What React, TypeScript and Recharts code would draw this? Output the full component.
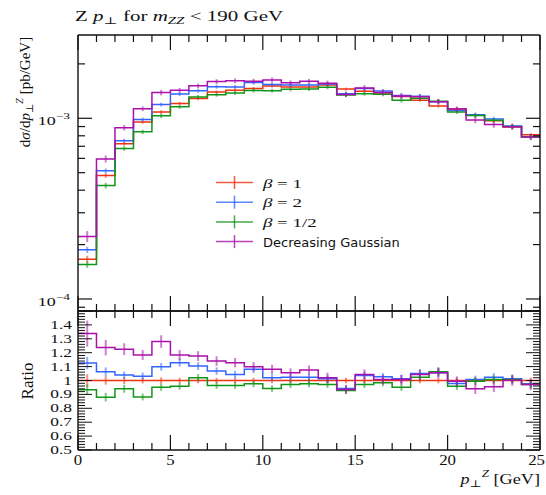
import React from 'react';
import { ComposedChart, Line, XAxis, YAxis, ErrorBar, Legend } from 'recharts';

// bin edges of p_T^Z [GeV]
const binEdges = [0, 1, 2, 3, 4, 5, 6, 7, 8, 9, 10, 11, 12, 13, 14, 15, 16, 17, 18, 19, 20, 21, 22, 23, 24, 25];

// dsigma/dpT [pb/GeV], one value per bin
const beta1 = [1.66e-4, 4.82e-4, 7.24e-4, 9.54e-4, 1.084e-3, 1.207e-3, 1.286e-3, 1.4e-3, 1.43e-3, 1.46e-3, 1.51e-3, 1.49e-3, 1.49e-3, 1.53e-3, 1.45e-3, 1.41e-3, 1.38e-3, 1.32e-3, 1.26e-3, 1.17e-3, 1.13e-3, 1.04e-3, 9.68e-4, 8.95e-4, 8.1e-4];
const beta2 = [1.87e-4, 5.12e-4, 7.52e-4, 9.84e-4, 1.191e-3, 1.362e-3, 1.42e-3, 1.495e-3, 1.492e-3, 1.577e-3, 1.54e-3, 1.526e-3, 1.526e-3, 1.548e-3, 1.366e-3, 1.461e-3, 1.417e-3, 1.336e-3, 1.324e-3, 1.236e-3, 1.105e-3, 1.047e-3, 9.91e-4, 9.06e-4, 7.91e-4];
const betaHalf = [1.55e-4, 4.24e-4, 6.81e-4, 8.41e-4, 1.032e-3, 1.158e-3, 1.312e-3, 1.35e-3, 1.379e-3, 1.425e-3, 1.422e-3, 1.447e-3, 1.454e-3, 1.486e-3, 1.346e-3, 1.369e-3, 1.357e-3, 1.257e-3, 1.29e-3, 1.244e-3, 1.084e-3, 1.035e-3, 9.75e-4, 9.01e-4, 7.87e-4];
const decGauss = [2.22e-4, 5.96e-4, 8.87e-4, 1.129e-3, 1.388e-3, 1.428e-3, 1.512e-3, 1.596e-3, 1.613e-3, 1.605e-3, 1.631e-3, 1.573e-3, 1.602e-3, 1.561e-3, 1.356e-3, 1.471e-3, 1.39e-3, 1.329e-3, 1.314e-3, 1.236e-3, 1.124e-3, 9.78e-4, 9.24e-4, 8.97e-4, 7.87e-4];

// relative statistical errors per bin
const beta1Err = [0.045, 0.03, 0.025, 0.022, 0.022, 0.02, 0.02, 0.02, 0.02, 0.02, 0.02, 0.02, 0.02, 0.02, 0.02, 0.02, 0.02, 0.02, 0.02, 0.02, 0.02, 0.02, 0.022, 0.022, 0.022];
const beta2Err = [0.04, 0.03, 0.025, 0.025, 0.025, 0.025, 0.025, 0.025, 0.025, 0.025, 0.025, 0.025, 0.025, 0.025, 0.025, 0.025, 0.025, 0.028, 0.028, 0.028, 0.028, 0.028, 0.028, 0.028, 0.03];
const betaHalfErr = [0.04, 0.035, 0.03, 0.028, 0.028, 0.025, 0.025, 0.025, 0.025, 0.025, 0.025, 0.025, 0.025, 0.025, 0.025, 0.025, 0.025, 0.028, 0.028, 0.028, 0.028, 0.028, 0.028, 0.028, 0.03];
const decGaussErr = [0.07, 0.045, 0.035, 0.03, 0.035, 0.03, 0.03, 0.03, 0.03, 0.03, 0.03, 0.03, 0.03, 0.035, 0.035, 0.035, 0.035, 0.035, 0.035, 0.035, 0.035, 0.04, 0.04, 0.04, 0.04];

const seriesNames = ['β = 1', 'β = 2', 'β = 1/2', 'Decreasing Gaussian'];
const logTicks = [9e-5, 1e-4, 2e-4, 3e-4, 4e-4, 5e-4, 6e-4, 7e-4, 8e-4, 9e-4, 1e-3, 2e-3];
const ratioLabels = ['0.5', '0.6', '0.7', '0.8', '0.9', '1', '1.1', '1.2', '1.3', '1.4'];

const SERIES = [
  { key: 'b1', name: seriesNames[0], color: '#EE3311', values: beta1, err: beta1Err },
  { key: 'b2', name: seriesNames[1], color: '#3366FF', values: beta2, err: beta2Err },
  { key: 'bh', name: seriesNames[2], color: '#109618', values: betaHalf, err: betaHalfErr },
  { key: 'dg', name: seriesNames[3], color: '#AA11AA', values: decGauss, err: decGaussErr },
];

const SERIF = "'Liberation Serif', 'DejaVu Serif', serif";
const SANS = "'DejaVu Sans', sans-serif";
const INK = '#111';
const X_MAX = binEdges[binEdges.length - 1];
const X_DOMAIN = [binEdges[0], X_MAX];
const LOG_DOMAIN = [8.58e-5, 2.89e-3];
const RATIO_DOMAIN = [0.5, 1.5];

const xTicks = binEdges;
const ratioTicks: number[] = [];
for (let k = 0; k <= 50; k++) ratioTicks.push(+(0.5 + k * 0.02).toFixed(2));

// edge + centre points so stepAfter draws the histogram and errors sit at bin centres
function buildRows(ratio: boolean) {
  const rows: any[] = [];
  const n = binEdges.length - 1;
  for (let k = 0; k <= 2 * n; k++) {
    const i = Math.min(Math.floor(k / 2), n - 1);
    const x = k % 2 === 0 ? binEdges[k / 2] : (binEdges[i] + binEdges[i + 1]) / 2;
    const row: any = { x };
    SERIES.forEach((s) => {
      const v = ratio ? s.values[i] / beta1[i] : s.values[i];
      row[s.key] = v;
      if (k % 2 === 1) row[s.key + 'E'] = v * s.err[i];
    });
    rows.push(row);
  }
  return rows;
}
const topRows = buildRows(false);
const ratioRows = buildRows(true);

function fade(hex: string, a: number) {
  const r = parseInt(hex.slice(1, 3), 16), g = parseInt(hex.slice(3, 5), 16), b = parseInt(hex.slice(5, 7), 16);
  return `rgba(${r},${g},${b},${a})`;
}

function SText({ x, y, sx = 1, anchor = 'start', size, family = SERIF, italic = false, rotate = 0, children }: any) {
  return (
    <g transform={`translate(${x},${y}) rotate(${rotate}) scale(${sx},1)`}>
      <text x={0} y={0} textAnchor={anchor} fontSize={size} fontFamily={family} fontStyle={italic ? 'italic' : 'normal'} fill={INK}>
        {children}
      </text>
    </g>
  );
}

const xTick = (dir: number, labels: boolean) => (p: any) => {
  const v = p.payload.value;
  const major = v % 5 === 0;
  const len = major ? 15 : 7;
  const last = v === X_MAX;
  return (
    <g>
      <line x1={p.x} x2={p.x} y1={p.y} y2={p.y + dir * len} stroke={INK} strokeWidth={1.2} />
      {labels && major && (
        <SText x={last ? p.x + 5 : p.x} y={p.y + 15} anchor={last ? 'end' : 'middle'} size={14} sx={1.2}>{String(v)}</SText>
      )}
    </g>
  );
};

const logTick = (dir: number, labels: boolean) => (p: any) => {
  const v = p.payload.value;
  const e = Math.log10(v);
  const major = Math.abs(e - Math.round(e)) < 1e-6;
  const len = major ? 14 : 7;
  return (
    <g>
      <line x1={p.x} x2={p.x + dir * len} y1={p.y} y2={p.y} stroke={INK} strokeWidth={1.2} />
      {labels && major && (
        <SText x={p.x - 8} y={p.y + 7} anchor="end" size={12} sx={1.5}>
          10<tspan dy={-6} fontSize={9}>{'\u2212' + Math.abs(Math.round(e))}</tspan>
        </SText>
      )}
    </g>
  );
};

const ratioTick = (dir: number, labels: boolean) => (p: any) => {
  const v = p.payload.value;
  const major = Math.abs(v * 10 - Math.round(v * 10)) < 1e-6;
  const len = major ? 14 : 7;
  const idx = Math.round(v * 10) - 5;
  return (
    <g>
      <line x1={p.x} x2={p.x + dir * len} y1={p.y} y2={p.y} stroke={INK} strokeWidth={1} />
      {labels && major && idx < ratioLabels.length && (
        <SText x={p.x - 6} y={p.y + 4} anchor="end" size={12} sx={1.45}>{ratioLabels[idx]}</SText>
      )}
    </g>
  );
};

const axisLine = { stroke: INK, strokeWidth: 1.4 };
const common = { tickLine: false, tickSize: 0, tickMargin: 0, interval: 0 as const, allowDataOverflow: true, axisLine };

function LegendBox() {
  return (
    <svg width={220} height={84}>
      {SERIES.map((s, i) => {
        const y = 12.5 + i * 19.7;
        const c = fade(s.color, 0.8);
        return (
          <g key={s.key}>
            <line x1={6} x2={43} y1={y} y2={y} stroke={c} strokeWidth={1.5} />
            <line x1={24.5} x2={24.5} y1={y - 6.5} y2={y + 6.5} stroke={c} strokeWidth={1.5} />
            {s.name.startsWith('β') ? (
              <SText x={53} y={y + 5} size={13.5} sx={1.4}>
                <tspan fontStyle="italic">β</tspan>
                {s.name.slice(1)}
              </SText>
            ) : (
              <SText x={53} y={y + 5} size={13} family={SANS} sx={1}>{s.name}</SText>
            )}
          </g>
        );
      })}
    </svg>
  );
}

export default function App() {
  return (
    <div style={{ position: 'absolute', left: 0, top: 0, width: 546, height: 495, background: '#fff' }}>
      <div style={{ position: 'absolute', left: 0, top: 0 }}>
        <ComposedChart width={546} height={312} data={topRows} margin={{ top: 34, right: 5, bottom: 0, left: 77 }}>
          <XAxis xAxisId="b" type="number" dataKey="x" domain={X_DOMAIN} ticks={xTicks} height={1} tick={xTick(-1, false)} {...common} />
          <XAxis xAxisId="t" orientation="top" type="number" dataKey="x" domain={X_DOMAIN} ticks={xTicks} height={1} tick={xTick(1, false)} {...common} />
          <YAxis yAxisId="l" type="number" scale="log" domain={LOG_DOMAIN} ticks={logTicks} width={1} tick={logTick(1, true)} {...common} />
          <YAxis yAxisId="r" orientation="right" type="number" scale="log" domain={LOG_DOMAIN} ticks={logTicks} width={1} tick={logTick(-1, false)} {...common} />
          {SERIES.map((s) => (
            <Line key={s.key} xAxisId="b" yAxisId="l" type="stepAfter" dataKey={s.key} name={s.name} stroke={s.color}
              strokeWidth={1.5} dot={false} activeDot={false} isAnimationActive={false}>
              <ErrorBar dataKey={s.key + 'E'} direction="y" width={0} stroke={fade(s.color, 0.55)} strokeWidth={2} />
            </Line>
          ))}
          <Legend layout="vertical" align="center" verticalAlign="middle" content={() => <LegendBox />}
            wrapperStyle={{ position: 'absolute', left: 210, top: 170, width: 220, height: 84 }} />
        </ComposedChart>
      </div>
      <div style={{ position: 'absolute', left: 0, top: 305 }}>
        <ComposedChart width={546} height={190} data={ratioRows} margin={{ top: 5, right: 5, bottom: 44, left: 77 }}>
          <XAxis xAxisId="b" type="number" dataKey="x" domain={X_DOMAIN} ticks={xTicks} height={1} tick={xTick(-1, true)} {...common} />
          <XAxis xAxisId="t" orientation="top" type="number" dataKey="x" domain={X_DOMAIN} ticks={xTicks} height={1} tick={xTick(1, false)} {...common} />
          <YAxis yAxisId="l" type="number" domain={RATIO_DOMAIN} ticks={ratioTicks} width={1} tick={ratioTick(1, true)} {...common} />
          <YAxis yAxisId="r" orientation="right" type="number" domain={RATIO_DOMAIN} ticks={ratioTicks} width={1} tick={ratioTick(-1, false)} {...common} />
          {SERIES.map((s) => (
            <Line key={s.key} xAxisId="b" yAxisId="l" type="stepAfter" dataKey={s.key} name={s.name} stroke={s.color}
              strokeWidth={1.5} dot={false} activeDot={false} isAnimationActive={false}>
              <ErrorBar dataKey={s.key + 'E'} direction="y" width={0} stroke={fade(s.color, 0.55)} strokeWidth={2} />
            </Line>
          ))}
        </ComposedChart>
      </div>
      <svg width={546} height={495} style={{ position: 'absolute', left: 0, top: 0, pointerEvents: 'none' }}>
        <SText x={75} y={21} size={14} sx={1.5}>
          Z <tspan fontStyle="italic">p</tspan>
          <tspan fontSize={10} dy={3}>⊥</tspan>
          <tspan dy={-3}> for </tspan>
          <tspan fontStyle="italic">m</tspan>
          <tspan fontSize={10} dy={3} fontStyle="italic">ZZ</tspan>
          <tspan dy={-3}> &lt; 190 GeV</tspan>
        </SText>
        <SText x={30} y={92} rotate={-90} anchor="middle" size={15}>
          d<tspan fontStyle="italic">σ</tspan>/d<tspan fontStyle="italic">p</tspan>
          <tspan fontSize={10} dy={3}>⊥</tspan>
          <tspan fontSize={10} dy={-10} fontStyle="italic">Z</tspan>
          <tspan dy={7}> [pb/GeV]</tspan>
        </SText>
        <SText x={33} y={381} rotate={-90} anchor="middle" size={17}>Ratio</SText>
        <SText x={540} y={484} anchor="end" size={14} sx={1.3}>
          <tspan fontStyle="italic">p</tspan>
          <tspan fontSize={10} dy={3}>⊥</tspan>
          <tspan fontSize={10} dy={-10} fontStyle="italic">Z</tspan>
          <tspan dy={7}> [GeV]</tspan>
        </SText>
      </svg>
    </div>
  );
}
